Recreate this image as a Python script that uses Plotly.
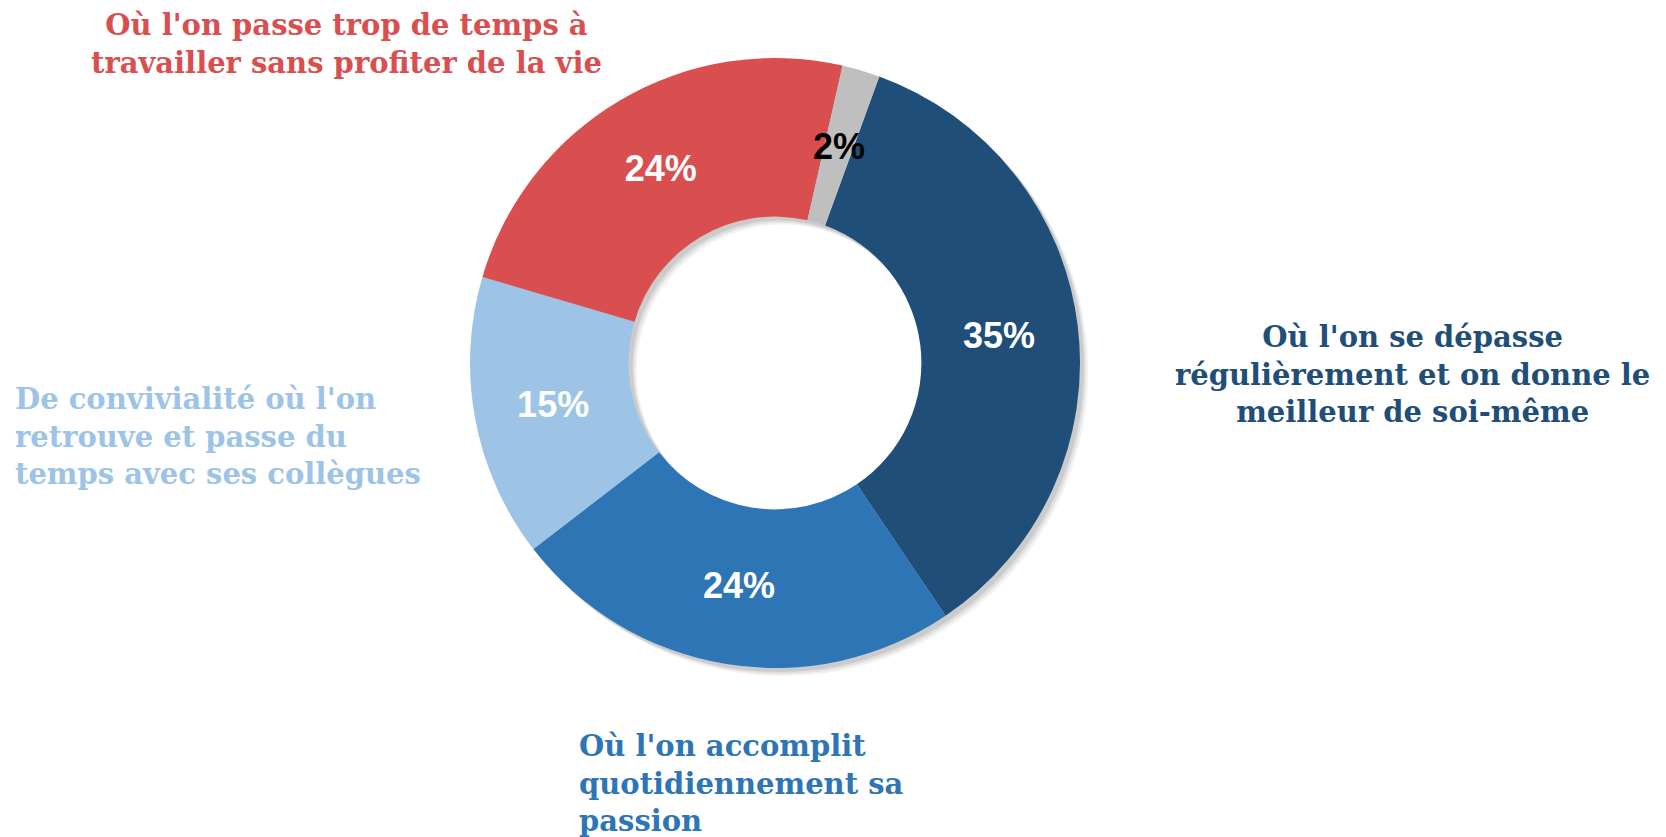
import math
import plotly.graph_objects as go

labels = ["Où l'on se dépasse régulièrement et on donne le meilleur de soi-même",
          "Où l'on accomplit quotidiennement sa passion",
          "De convivialité où l'on retrouve et passe du temps avec ses collègues",
          "Où l'on passe trop de temps à travailler sans profiter de la vie",
          "Autre"]
values = [35, 24, 15, 24, 2]
colors = ["#1F4E79", "#2E75B6", "#9DC3E6", "#D94F4F", "#BFBFBF"]
text_colors = ["white", "white", "white", "white", "black"]

W, H = 1666, 837
cx, cy, R = 767, 355, 305
HOLE = 0.48
ROT = 20
dom_x = [(cx - R) / W, (cx + R) / W]
dom_y = [1 - (cy + R) / H, 1 - (cy - R) / H]

fig = go.Figure()
# soft drop shadow
for off, op in [(8, 0.05), (6, 0.07), (4, 0.09)]:
    fig.add_trace(go.Pie(
        values=[1], labels=["shadow"], hole=HOLE, sort=False,
        marker=dict(colors=[f"rgba(0,0,0,{op})"], line=dict(width=0)),
        textinfo="none", hoverinfo="skip", showlegend=False,
        domain=dict(x=[dom_x[0] + off / W, dom_x[1] + off / W],
                    y=[dom_y[0] - off / H, dom_y[1] - off / H])))

# small slices get their label placed at mid-ring via annotation
small = [v < 5 for v in values]
templates = ["" if s else "<b>%{value}%</b>" for s in small]

fig.add_trace(go.Pie(
    labels=labels, values=values, hole=HOLE, sort=False,
    direction="clockwise", rotation=ROT,
    marker=dict(colors=colors, line=dict(width=0)),
    texttemplate=templates, textposition="inside",
    insidetextorientation="horizontal",
    textfont=dict(family="Liberation Sans, Arial", size=36, color=text_colors),
    showlegend=False, domain=dict(x=dom_x, y=dom_y)))

fig.update_layout(uniformtext=dict(minsize=36, mode="show"))

total = sum(values)
cum = 0
for v, s, tc in zip(values, small, text_colors):
    if s:
        ang = math.radians(ROT + (cum + v / 2) / total * 360)
        rr = R * (1 + HOLE) / 2
        px = cx + rr * math.sin(ang)
        py = cy - rr * math.cos(ang)
        fig.add_annotation(text=f"<b>{v}%</b>", x=px / W, y=1 - py / H,
                           xref="paper", yref="paper", showarrow=False,
                           xanchor="center", yanchor="middle",
                           font=dict(family="Liberation Sans, Arial", size=36, color=tc))
    cum += v

serif = "DejaVu Serif"
ann = [
    dict(text="<b>Où l'on passe trop de temps à<br>travailler sans profiter de la vie</b>",
         x=338, y=36, xanchor="center", align="center", color="#D94F4F"),
    dict(text="<b>Où l'on se dépasse<br>régulièrement et on donne le<br>meilleur de soi-même</b>",
         x=1404, y=366, xanchor="center", align="center", color="#1F4E79"),
    dict(text="<b>De convivialité où l'on<br>retrouve et passe du<br>temps avec ses collègues</b>",
         x=5, y=428, xanchor="left", align="left", color="#9DC3E6"),
    dict(text="<b>Où l'on accomplit<br>quotidiennement sa<br>passion</b>",
         x=569, y=775, xanchor="left", align="left", color="#2E75B6"),
]
for a in ann:
    fig.add_annotation(text=a["text"], x=a["x"] / W, y=1 - a["y"] / H,
                       xref="paper", yref="paper", xanchor=a["xanchor"], yanchor="middle",
                       align=a["align"], showarrow=False,
                       font=dict(family=serif, size=29, color=a["color"]))

fig.update_layout(width=W, height=H, margin=dict(l=0, r=0, t=0, b=0),
                  paper_bgcolor="white", plot_bgcolor="white")
fig.write_html("out.html")
